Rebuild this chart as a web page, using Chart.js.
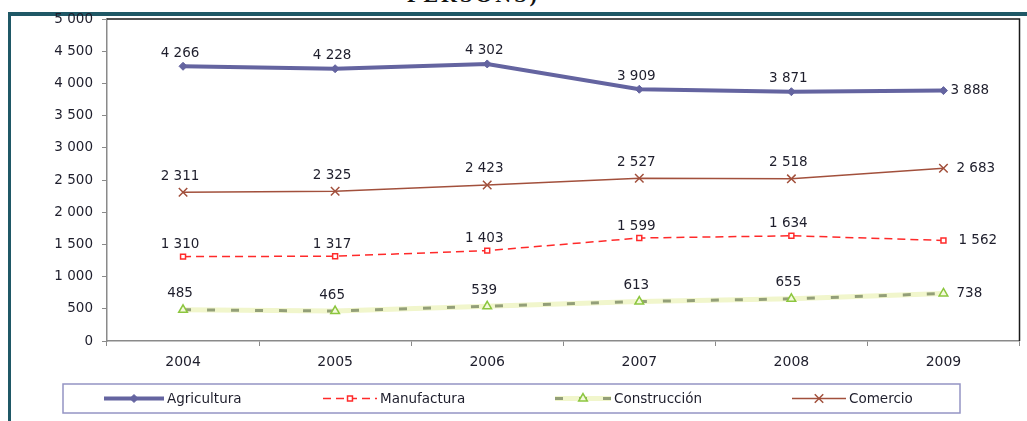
<!DOCTYPE html>
<html>
<head>
<meta charset="utf-8">
<script src="https://cdn.jsdelivr.net/npm/chart.js@4.4.1/dist/chart.umd.min.js"></script>
<style>
  html, body { margin: 0; padding: 0; background: #fff; overflow: hidden; }
  #wrap { position: relative; width: 1027px; height: 421px; }
  #frame { position: absolute; left: 8px; top: 12px; width: 1040px; height: 420px;
           border-top: 4px solid #1f5866; border-left: 3px solid #1f5866; }
  #title { position: absolute; left: 407px; top: -16px; white-space: nowrap;
           font: bold 22px "Liberation Serif", serif; letter-spacing: 3px; color: #111; line-height: 22px; }
  #chart { position: absolute; left: 0; top: 0; }
</style>
</head>
<body>
<div id="wrap">
  <div id="title">PERSONS)</div>
  <div id="frame"></div>
  <canvas id="chart" width="1027" height="421"></canvas>
</div>
<script>
const years = ["2004", "2005", "2006", "2007", "2008", "2009"];
const agricultura = [4266, 4228, 4302, 3909, 3871, 3888];
const manufactura = [1310, 1317, 1403, 1599, 1634, 1562];
const construccion = [485, 465, 539, 613, 655, 738];
const comercio = [2311, 2325, 2423, 2527, 2518, 2683];
const yMin = 0, yMax = 5000, yStep = 500;

const FONT = '"DejaVu Sans", Verdana, sans-serif';
const TEXT = "#1e1e2c";

const fmt = (v) => String(v).replace(/\B(?=(\d{3})+(?!\d))/g, " ");

// etiquetas de valor encima de cada punto (la última a la derecha)
const valueLabels = {
  id: "valueLabels",
  afterDatasetsDraw(chart) {
    const ctx = chart.ctx;
    ctx.save();
    ctx.font = "13.5px " + FONT;
    ctx.fillStyle = TEXT;
    chart.data.datasets.forEach((ds, i) => {
      if (!ds.labelDy) return;
      const meta = chart.getDatasetMeta(i);
      meta.data.forEach((pt, j) => {
        const txt = fmt(ds.data[j]);
        ctx.textBaseline = "middle";
        if (j === ds.data.length - 1) {
          ctx.textAlign = "left";
          ctx.fillText(txt, pt.x + ds.lastDx, pt.y);
        } else {
          ctx.textAlign = "center";
          ctx.fillText(txt, pt.x - 3, pt.y - ds.labelDy);
        }
      });
    });
    ctx.restore();
  }
};

// borde negro arriba y a la derecha del área de trazado
const plotFrame = {
  id: "plotFrame",
  beforeDatasetsDraw(chart) {
    const { ctx, chartArea: a } = chart;
    ctx.save();
    ctx.strokeStyle = "#1a1a1a";
    ctx.lineWidth = 1.5;
    ctx.beginPath();
    ctx.moveTo(a.left, a.top);
    ctx.lineTo(a.right, a.top);
    ctx.lineTo(a.right, a.bottom);
    ctx.stroke();
    ctx.restore();
  }
};

// leyenda en recuadro debajo del gráfico
const boxLegend = {
  id: "boxLegend",
  afterDraw(chart) {
    const ctx = chart.ctx;
    const box = { x: 63, y: 384, w: 897, h: 29 };
    const cy = box.y + box.h / 2;
    ctx.save();
    ctx.strokeStyle = "#9494c4";
    ctx.lineWidth = 1.5;
    ctx.strokeRect(box.x, box.y, box.w, box.h);

    const items = [
      { ds: [0], x0: 104, x1: 164, label: "Agricultura" },
      { ds: [1], x0: 323, x1: 377, label: "Manufactura" },
      { ds: [3, 2], x0: 555, x1: 611, label: "Construcción" },
      { ds: [4], x0: 792, x1: 846, label: "Comercio" }
    ];
    items.forEach((it) => {
      it.ds.forEach((k) => {
        const d = chart.data.datasets[k];
        ctx.save();
        ctx.strokeStyle = d.borderColor;
        ctx.lineWidth = d.borderWidth;
        ctx.setLineDash(d.borderDash || []);
        ctx.beginPath();
        ctx.moveTo(it.x0, cy);
        ctx.lineTo(it.x1, cy);
        ctx.stroke();
        ctx.restore();
        if (d.pointRadius > 0) {
          const mx = (it.x0 + it.x1) / 2;
          ctx.save();
          ctx.fillStyle = d.pointBackgroundColor;
          ctx.strokeStyle = d.pointBorderColor;
          ctx.lineWidth = d.pointBorderWidth;
          Chart.helpers.drawPoint(ctx, {
            pointStyle: d.pointStyle, radius: d.pointRadius,
            borderWidth: d.pointBorderWidth, rotation: 0
          }, mx, cy);
          ctx.restore();
        }
      });
      ctx.font = "13.5px " + FONT;
      ctx.fillStyle = TEXT;
      ctx.textAlign = "left";
      ctx.textBaseline = "middle";
      ctx.fillText(it.label, it.x1 + 3, cy + 1);
    });
    ctx.restore();
  }
};

const yTicks = [];
for (let v = yMin; v <= yMax; v += yStep) yTicks.push(v);

new Chart(document.getElementById("chart").getContext("2d"), {
  type: "line",
  data: {
    labels: years,
    datasets: [
      {
        label: "Agricultura", data: agricultura,
        borderColor: "#6464a0", borderWidth: 4,
        pointStyle: "rectRot", pointRadius: 4,
        pointBackgroundColor: "#6464a0", pointBorderColor: "#6464a0", pointBorderWidth: 1,
        labelDy: 13, lastDx: 7
      },
      {
        label: "Manufactura", data: manufactura,
        borderColor: "#ff2a2a", borderWidth: 1.5, borderDash: [8, 5],
        pointStyle: "rect", pointRadius: 3.5,
        pointBackgroundColor: "#ffffff", pointBorderColor: "#ff2a2a", pointBorderWidth: 1.5,
        labelDy: 12, lastDx: 15
      },
      {
        label: "Construcción", data: construccion,
        borderColor: "#939f78", borderWidth: 3, borderDash: [8, 16],
        pointStyle: "triangle", pointRadius: 5,
        pointBackgroundColor: "#f4f9dc", pointBorderColor: "#8cc63f", pointBorderWidth: 1.5,
        labelDy: 16, lastDx: 13
      },
      {
        label: "Construcción (fondo)", data: construccion,
        borderColor: "#f1f6cc", borderWidth: 5,
        pointRadius: 0
      },
      {
        label: "Comercio", data: comercio,
        borderColor: "#a2503c", borderWidth: 1.5,
        pointStyle: "crossRot", pointRadius: 6,
        pointBackgroundColor: "#a2503c", pointBorderColor: "#a2503c", pointBorderWidth: 1.5,
        labelDy: 16, lastDx: 13
      }
    ]
  },
  options: {
    responsive: false,
    animation: false,
    events: [],
    layout: { padding: { top: 19, right: 7, left: 0, bottom: 0 } },
    plugins: { legend: { display: false }, tooltip: { enabled: false } },
    elements: { line: { tension: 0 } },
    scales: {
      x: {
        offset: true,
        grid: { display: true, drawOnChartArea: false, drawTicks: true, tickLength: 5, color: "#8a8a8a", offset: true },
        border: { color: "#8a8a8a", width: 1.5 },
        ticks: { color: TEXT, font: { family: FONT, size: 14 }, padding: 8, maxRotation: 0 },
        afterFit: (s) => { s.height = 80; }
      },
      y: {
        min: yMin, max: yMax,
        afterBuildTicks: (s) => { s.ticks = yTicks.map((v) => ({ value: v })); },
        grid: { display: true, drawOnChartArea: false, drawTicks: true, tickLength: 5, color: "#8a8a8a" },
        border: { color: "#8a8a8a", width: 1.5 },
        ticks: { color: TEXT, font: { family: FONT, size: 13.5 }, padding: 9, callback: (v) => fmt(v) },
        afterFit: (s) => { s.width = 107; }
      }
    }
  },
  plugins: [plotFrame, valueLabels, boxLegend]
});
</script>
</body>
</html>
